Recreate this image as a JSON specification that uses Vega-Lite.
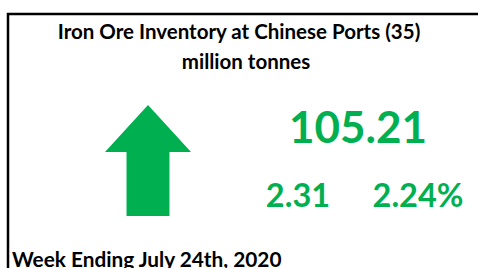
{
  "$schema": "https://vega.github.io/schema/vega-lite/v6.json",
  "width": 480,
  "height": 264,
  "autosize": "none",
  "padding": {"left": 8, "top": 14, "right": -10, "bottom": -10},
  "background": "white",
  "config": {"view": {"stroke": "#000000", "strokeWidth": 2.5}, "font": "Lato"},
  "data": {
    "values": [
      {"section": "header", "line": 1, "text": "Iron Ore Inventory at Chinese Ports (35)"},
      {"section": "header", "line": 2, "text": "million tonnes"},
      {"section": "metric", "metric": "Inventory", "row": "level", "value": 105.21, "text": "105.21"},
      {"section": "metric", "metric": "Change", "row": "change", "value": 2.31, "text": "2.31"},
      {"section": "metric", "metric": "Change %", "row": "change", "value": 2.24, "text": "2.24%"},
      {"section": "trend", "direction": "up", "text": "up"},
      {"section": "footer", "text": "Week Ending July 24th, 2020"}
    ]
  },
  "layer": [
    {
      "transform": [{"filter": "datum.section === 'header'"}],
      "mark": {"type": "text", "font": "Lato", "fontWeight": "bold", "fontSize": 20.5, "align": "center", "baseline": "alphabetic", "color": "#000000"},
      "encoding": {
        "x": {"field": "line", "type": "ordinal", "scale": {"type": "point", "domain": [1, 2], "range": [231, 238], "padding": 0}, "axis": null},
        "y": {"field": "line", "type": "ordinal", "scale": {"type": "point", "domain": [1, 2], "range": [25, 55], "padding": 0}, "axis": null},
        "text": {"field": "text"}
      }
    },
    {
      "transform": [{"filter": "datum.section === 'metric'"}],
      "mark": {"type": "text", "font": "Lato", "fontWeight": "bold", "align": "center", "baseline": "alphabetic", "color": "#00B050"},
      "encoding": {
        "x": {"field": "metric", "type": "nominal", "scale": {"type": "point", "domain": ["Change", "Inventory", "Change %"], "range": [290, 410], "padding": 0}, "axis": null},
        "y": {"field": "row", "type": "nominal", "scale": {"type": "point", "domain": ["level", "change"], "range": [129, 193], "padding": 0}, "axis": null},
        "size": {"field": "row", "type": "ordinal", "scale": {"domain": ["level", "change"], "range": [44, 32.5]}, "legend": null},
        "text": {"field": "text"}
      }
    },
    {
      "transform": [{"filter": "datum.section === 'trend'"}],
      "mark": {"type": "point", "filled": true, "opacity": 1, "color": "#00B050", "size": 12321, "shape": "M0,-1L0.775,-0.153L0.387,-0.153L0.387,1L-0.387,1L-0.387,-0.153L-0.775,-0.153Z"},
      "encoding": {
        "x": {"field": "direction", "type": "nominal", "scale": {"type": "point", "domain": ["up"], "range": [140, 140]}, "axis": null},
        "y": {"field": "section", "type": "nominal", "scale": {"type": "point", "domain": ["trend"], "range": [146.5, 146.5]}, "axis": null}
      }
    },
    {
      "transform": [{"filter": "datum.section === 'footer'"}],
      "mark": {"type": "text", "font": "Lato", "fontWeight": "bold", "fontSize": 20.8, "align": "left", "baseline": "alphabetic", "color": "#000000"},
      "encoding": {
        "x": {"field": "section", "type": "nominal", "scale": {"type": "point", "domain": ["footer"], "range": [4, 4]}, "axis": null},
        "y": {"field": "section", "type": "nominal", "scale": {"type": "point", "domain": ["footer"], "range": [252.5, 252.5]}, "axis": null},
        "text": {"field": "text"}
      }
    }
  ],
  "resolve": {"scale": {"x": "independent", "y": "independent", "size": "independent"}}
}
